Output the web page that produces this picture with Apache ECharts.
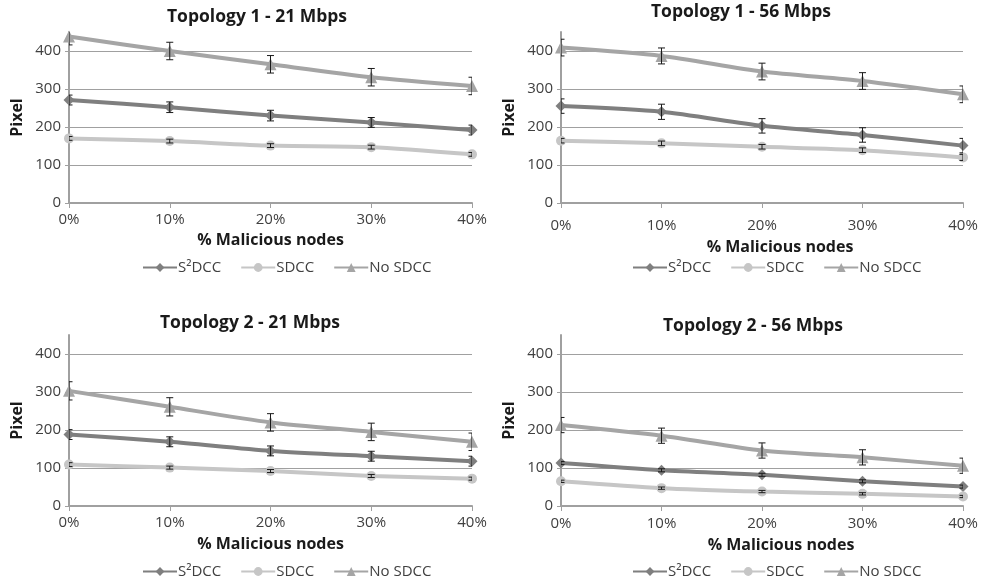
<!DOCTYPE html>
<html><head><meta charset="utf-8">
<script src="https://cdn.jsdelivr.net/npm/echarts@6/dist/echarts.min.js"></script>
<style>html,body{margin:0;padding:0;background:#fff}#c{width:993px;height:586px}</style>
</head><body><div id="c"></div>
<script>
// ---- data ----
const categories = ['0%', '10%', '20%', '30%', '40%'];
const seriesNames = ['S²DCC', 'SDCC', 'No SDCC'];
const panelTitles = ['Topology 1 - 21 Mbps', 'Topology 1 - 56 Mbps', 'Topology 2 - 21 Mbps', 'Topology 2 - 56 Mbps'];
const yTicks = [0, 100, 200, 300, 400];

// Topology 1 - 21 Mbps
const t1r21_s2dcc = [271, 252, 230, 212, 192];
const t1r21_sdcc = [170, 163, 151, 147, 128];
const t1r21_nosdcc = [438, 400, 365, 331, 308];
const t1r21_s2dcc_err = [13, 14, 14, 13, 13];
const t1r21_sdcc_err = [5, 5, 5, 5, 5];
const t1r21_nosdcc_err = [22, 23, 23, 23, 23];

// Topology 1 - 56 Mbps
const t1r56_s2dcc = [255, 240, 203, 179, 151];
const t1r56_sdcc = [164, 157, 148, 139, 120];
const t1r56_nosdcc = [409, 387, 346, 321, 286];
const t1r56_s2dcc_err = [19, 20, 19, 19, 19];
const t1r56_sdcc_err = [6, 6, 6, 6, 8];
const t1r56_nosdcc_err = [22, 21, 22, 22, 22];

// Topology 2 - 21 Mbps
const t2r21_s2dcc = [188, 169, 145, 131, 118];
const t2r21_sdcc = [109, 101, 92, 79, 72];
const t2r21_nosdcc = [303, 261, 220, 195, 169];
const t2r21_s2dcc_err = [13, 13, 13, 13, 13];
const t2r21_sdcc_err = [5, 4, 4, 4, 4];
const t2r21_nosdcc_err = [24, 24, 23, 23, 23];

// Topology 2 - 56 Mbps
const t2r56_s2dcc = [113, 94, 82, 65, 51];
const t2r56_sdcc = [65, 47, 38, 32, 25];
const t2r56_nosdcc = [213, 185, 146, 128, 106];
const t2r56_s2dcc_err = [4, 4, 4, 4, 4];
const t2r56_sdcc_err = [3, 3, 3, 3, 3];
const t2r56_nosdcc_err = [20, 20, 20, 20, 20];

const panels = [
  { vals: [t1r21_s2dcc, t1r21_sdcc, t1r21_nosdcc], errs: [t1r21_s2dcc_err, t1r21_sdcc_err, t1r21_nosdcc_err] },
  { vals: [t1r56_s2dcc, t1r56_sdcc, t1r56_nosdcc], errs: [t1r56_s2dcc_err, t1r56_sdcc_err, t1r56_nosdcc_err] },
  { vals: [t2r21_s2dcc, t2r21_sdcc, t2r21_nosdcc], errs: [t2r21_s2dcc_err, t2r21_sdcc_err, t2r21_nosdcc_err] },
  { vals: [t2r56_s2dcc, t2r56_sdcc, t2r56_nosdcc], errs: [t2r56_s2dcc_err, t2r56_sdcc_err, t2r56_nosdcc_err] }
];

// ---- styling / layout ----
const FONT = 'Open Sans';
const colors = ['#7f7f7f', '#c6c6c6', '#a5a5a5'];
const symbols = ['diamond', 'circle', 'triangle'];
const symbolSizes = [11, 10, 12];
const grids = [
  { left: 69, top: 32, width: 403, height: 171 },
  { left: 561, top: 32, width: 402, height: 171 },
  { left: 69, top: 335, width: 403, height: 171 },
  { left: 561, top: 335, width: 402, height: 171 }
];
const titlePos = [[257, 8], [741, 3], [250, 314], [753, 317]];
const legendPos = [[142, 260], [632, 260], [142, 564], [632, 564]];
const xNameGap = [29, 36, 30, 31];
const xNameShift = [0, 36, 0, 38];
const xLabelMargin = [9, 15, 9, 10];

function renderErr(params, api) {
  const x = api.value(0), y = api.value(1), e = api.value(2);
  const hi = api.coord([x, y + e]);
  const lo = api.coord([x, y - e]);
  const w = 3.5;
  const st = { stroke: '#1a1a1a', lineWidth: 1 };
  return {
    type: 'group',
    children: [
      { type: 'line', shape: { x1: hi[0], y1: hi[1], x2: lo[0], y2: lo[1] }, style: st },
      { type: 'line', shape: { x1: hi[0] - w, y1: hi[1], x2: hi[0] + w, y2: hi[1] }, style: st },
      { type: 'line', shape: { x1: lo[0] - w, y1: lo[1], x2: lo[0] + w, y2: lo[1] }, style: st }
    ]
  };
}

const option = {
  animation: false,
  backgroundColor: '#fff',
  textStyle: { fontFamily: FONT },
  title: panelTitles.map((t, i) => ({
    text: t, left: titlePos[i][0], top: titlePos[i][1], textAlign: 'center', padding: 0,
    textStyle: { fontFamily: FONT, fontSize: 17.5, fontWeight: 'bold', color: '#1a1a1a' }
  })),
  legend: legendPos.map(p => ({
    data: seriesNames, left: p[0], top: p[1], itemWidth: 34, itemHeight: 11, itemGap: 19, padding: 0,
    textStyle: { fontFamily: FONT, fontSize: 15, color: '#404040', padding: [0, 0, 0, -4] }
  })),
  grid: grids,
  xAxis: grids.map((g, i) => ({
    type: 'category', gridIndex: i, data: categories, boundaryGap: false,
    name: '% Malicious nodes', nameLocation: 'middle', nameGap: xNameGap[i],
    nameTextStyle: { fontFamily: FONT, fontSize: 16, fontWeight: 'bold', color: '#1a1a1a', padding: [0, 0, 0, xNameShift[i]] },
    axisLine: { lineStyle: { color: '#a0a0a0', width: 2 } },
    axisTick: { show: true, length: 5, lineStyle: { color: '#a0a0a0', width: 1 } },
    axisLabel: { fontFamily: FONT, fontSize: 15, color: '#404040', margin: xLabelMargin[i] },
    splitLine: { show: false }
  })),
  yAxis: grids.map((g, i) => ({
    type: 'value', gridIndex: i, min: 0, max: 450, interval: 100,
    name: 'Pixel', nameLocation: 'middle', nameGap: 44,
    nameTextStyle: { fontFamily: FONT, fontSize: 16, fontWeight: 'bold', color: '#1a1a1a' },
    axisLine: { show: true, lineStyle: { color: '#a0a0a0', width: 2 } },
    axisTick: { show: true, length: 4, lineStyle: { color: '#a0a0a0' } },
    axisLabel: {
      fontFamily: FONT, fontSize: 15, color: '#404040', margin: 8, showMaxLabel: false,
      formatter: v => (yTicks.indexOf(v) >= 0 ? String(v) : '')
    },
    splitLine: { show: true, showMinLine: false, showMaxLine: false, lineStyle: { color: '#a0a0a0', width: 1 } }
  })),
  series: []
};

panels.forEach((p, i) => {
  p.vals.forEach((vals, k) => {
    option.series.push({
      type: 'line', name: seriesNames[k], xAxisIndex: i, yAxisIndex: i,
      data: vals, smooth: 0.25, symbol: symbols[k], symbolSize: symbolSizes[k],
      lineStyle: { color: colors[k], width: 4 },
      itemStyle: { color: colors[k] },
      z: 2
    });
  });
  p.vals.forEach((vals, k) => {
    option.series.push({
      type: 'custom', name: seriesNames[k], xAxisIndex: i, yAxisIndex: i,
      data: vals.map((v, j) => [j, v, p.errs[k][j]]),
      renderItem: renderErr, clip: true, z: 3, silent: true,
      encode: { x: 0, y: 1 }
    });
  });
});

const chart = echarts.init(document.getElementById('c'), null, { renderer: 'canvas' });
chart.setOption(option);
</script>
</body></html>
